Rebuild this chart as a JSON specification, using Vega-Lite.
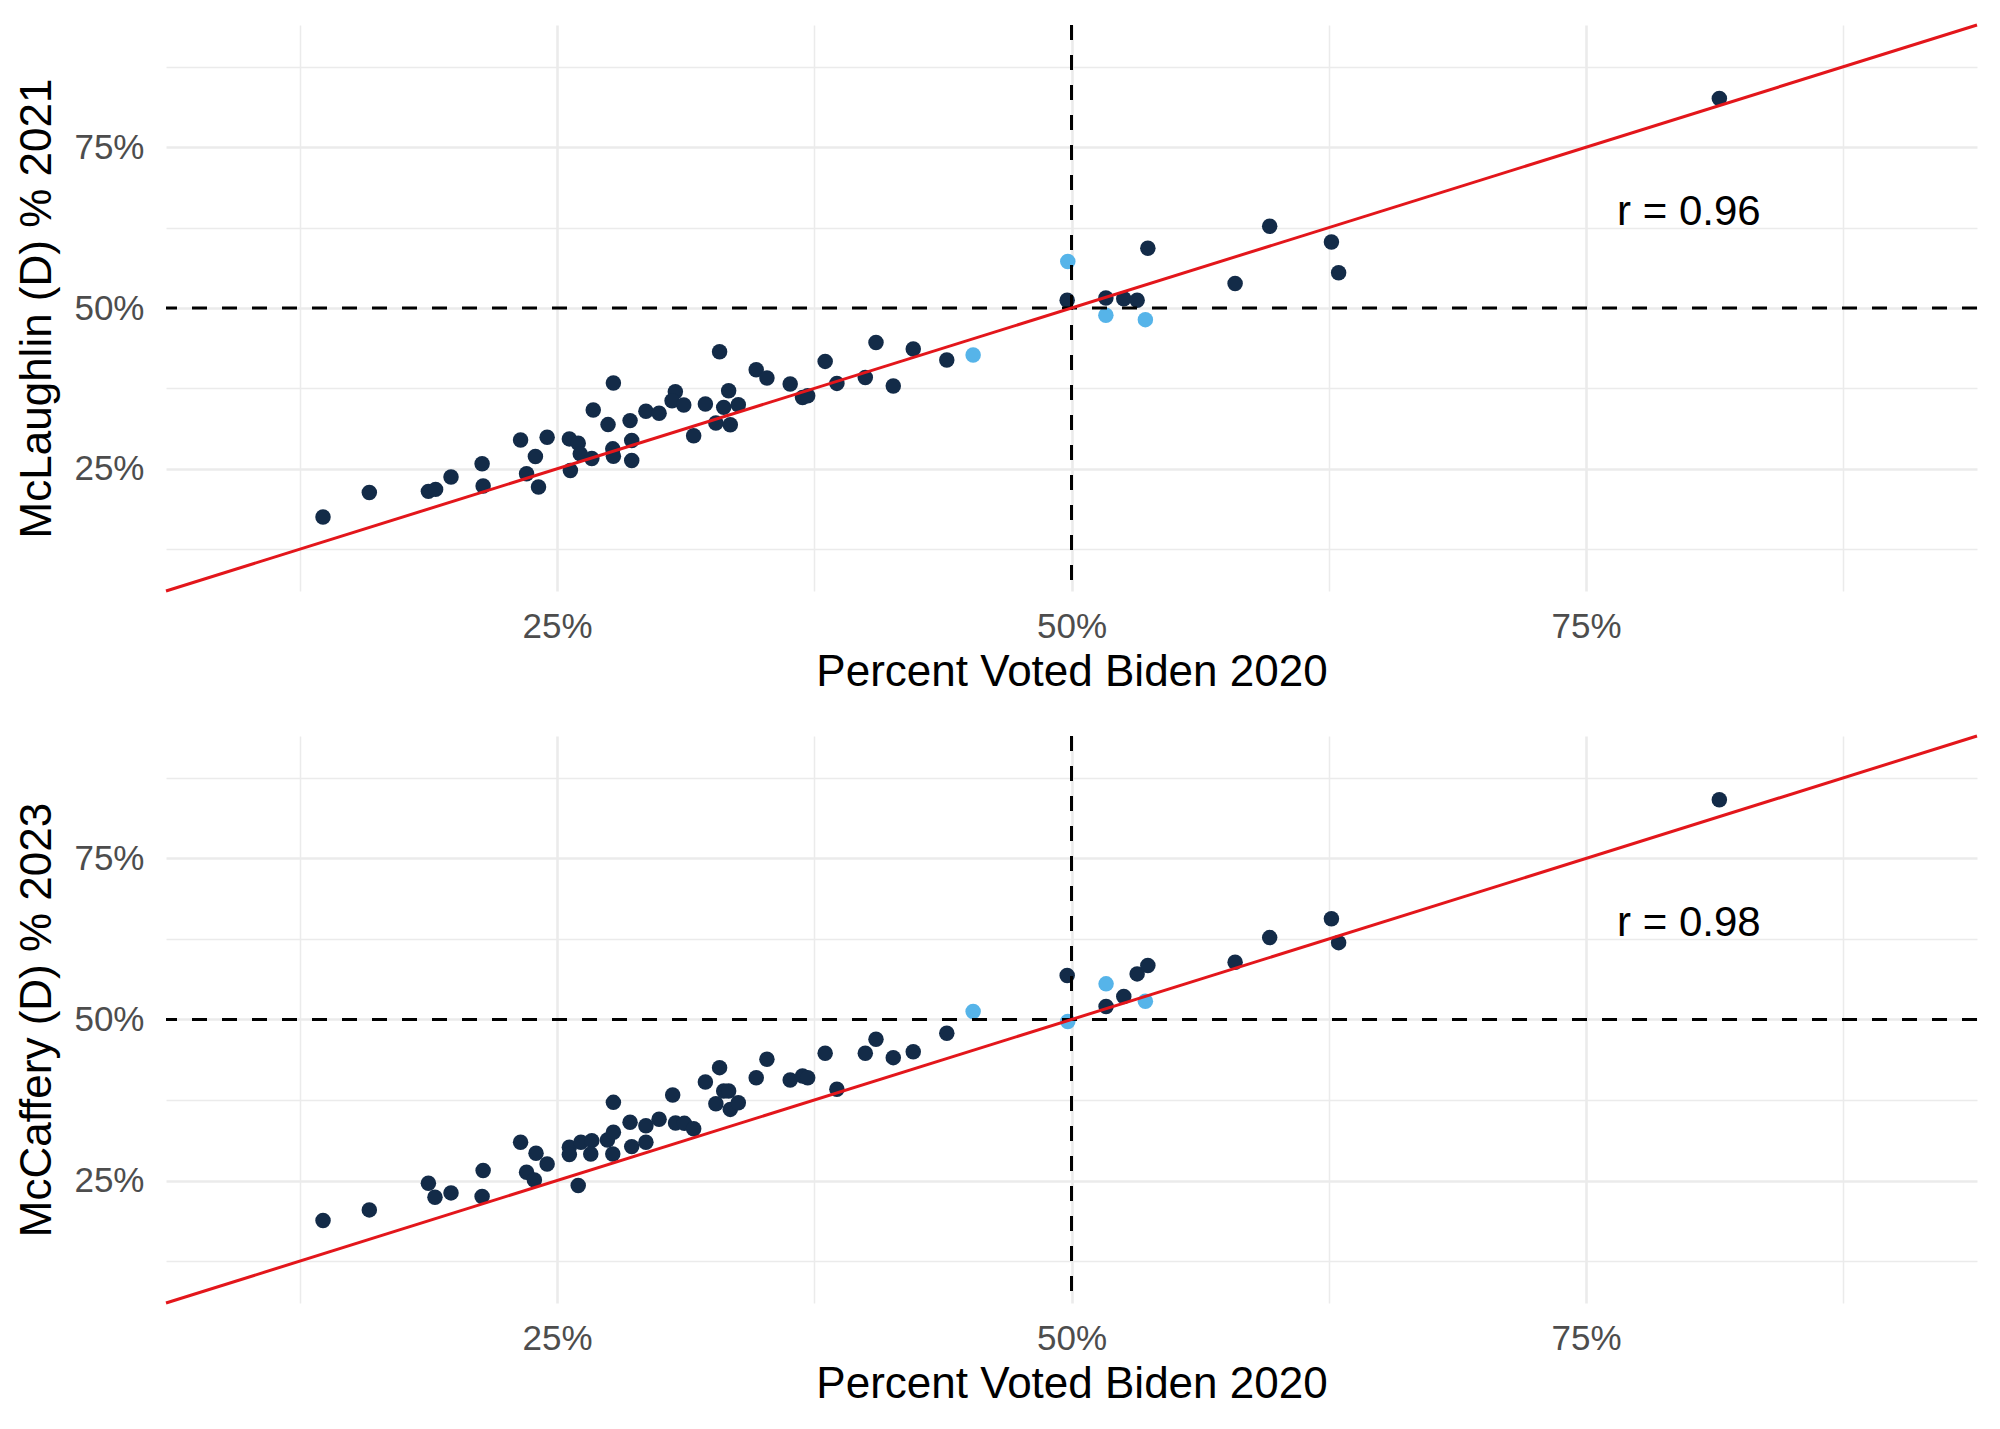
{
  "$schema": "https://vega.github.io/schema/vega-lite/v6.json",
  "background": "white",
  "padding": {"left": 15, "top": 23, "right": 23, "bottom": 10},
  "config": {
    "view": {"stroke": null},
    "font": "Liberation Sans",
    "axis": {
      "domain": false,
      "ticks": false,
      "labelFont": "Liberation Sans",
      "titleFont": "Liberation Sans",
      "labelFontSize": 35,
      "labelColor": "#4D4D4D",
      "titleFontSize": 44,
      "titleFontWeight": "normal",
      "titleColor": "black",
      "gridColor": "#EBEBEB",
      "labelOverlap": false,
      "labelFlush": false
    },
    "axisX": {"labelPadding": 18, "titlePadding": 6},
    "axisY": {"labelPadding": 22, "titlePadding": 14}
  },
  "datasets": {
    "p1": [
      {"biden": 0.1363, "dem": 0.1751, "hl": "no"},
      {"biden": 0.1588, "dem": 0.2133, "hl": "no"},
      {"biden": 0.1875, "dem": 0.2149, "hl": "no"},
      {"biden": 0.1910, "dem": 0.2180, "hl": "no"},
      {"biden": 0.1985, "dem": 0.2371, "hl": "no"},
      {"biden": 0.2136, "dem": 0.2577, "hl": "no"},
      {"biden": 0.2141, "dem": 0.2231, "hl": "no"},
      {"biden": 0.2323, "dem": 0.2949, "hl": "no"},
      {"biden": 0.2352, "dem": 0.2423, "hl": "no"},
      {"biden": 0.2395, "dem": 0.2691, "hl": "no"},
      {"biden": 0.2410, "dem": 0.2216, "hl": "no"},
      {"biden": 0.2452, "dem": 0.2991, "hl": "no"},
      {"biden": 0.2560, "dem": 0.2965, "hl": "no"},
      {"biden": 0.2603, "dem": 0.2898, "hl": "no"},
      {"biden": 0.2565, "dem": 0.2474, "hl": "no"},
      {"biden": 0.2613, "dem": 0.2732, "hl": "no"},
      {"biden": 0.2669, "dem": 0.2660, "hl": "no"},
      {"biden": 0.2676, "dem": 0.3414, "hl": "no"},
      {"biden": 0.2748, "dem": 0.3187, "hl": "no"},
      {"biden": 0.2774, "dem": 0.3833, "hl": "no"},
      {"biden": 0.2771, "dem": 0.2810, "hl": "no"},
      {"biden": 0.2774, "dem": 0.2696, "hl": "no"},
      {"biden": 0.2855, "dem": 0.3249, "hl": "no"},
      {"biden": 0.2863, "dem": 0.2939, "hl": "no"},
      {"biden": 0.2863, "dem": 0.2629, "hl": "no"},
      {"biden": 0.2932, "dem": 0.3394, "hl": "no"},
      {"biden": 0.2996, "dem": 0.3363, "hl": "no"},
      {"biden": 0.3075, "dem": 0.3698, "hl": "no"},
      {"biden": 0.3059, "dem": 0.3559, "hl": "no"},
      {"biden": 0.3116, "dem": 0.3492, "hl": "no"},
      {"biden": 0.3164, "dem": 0.3014, "hl": "no"},
      {"biden": 0.3221, "dem": 0.3506, "hl": "no"},
      {"biden": 0.3272, "dem": 0.3211, "hl": "no"},
      {"biden": 0.3290, "dem": 0.4320, "hl": "no"},
      {"biden": 0.3310, "dem": 0.3455, "hl": "no"},
      {"biden": 0.3334, "dem": 0.3714, "hl": "no"},
      {"biden": 0.3342, "dem": 0.3185, "hl": "no"},
      {"biden": 0.3381, "dem": 0.3496, "hl": "no"},
      {"biden": 0.3468, "dem": 0.4040, "hl": "no"},
      {"biden": 0.3520, "dem": 0.3911, "hl": "no"},
      {"biden": 0.3633, "dem": 0.3817, "hl": "no"},
      {"biden": 0.3693, "dem": 0.3610, "hl": "no"},
      {"biden": 0.3718, "dem": 0.3636, "hl": "no"},
      {"biden": 0.3803, "dem": 0.4170, "hl": "no"},
      {"biden": 0.3860, "dem": 0.3828, "hl": "no"},
      {"biden": 0.3998, "dem": 0.3921, "hl": "no"},
      {"biden": 0.4050, "dem": 0.4465, "hl": "no"},
      {"biden": 0.4134, "dem": 0.3786, "hl": "no"},
      {"biden": 0.4231, "dem": 0.4361, "hl": "no"},
      {"biden": 0.4394, "dem": 0.4190, "hl": "no"},
      {"biden": 0.4522, "dem": 0.4268, "hl": "yes"},
      {"biden": 0.4982, "dem": 0.5723, "hl": "yes"},
      {"biden": 0.4979, "dem": 0.5119, "hl": "no"},
      {"biden": 0.5167, "dem": 0.5155, "hl": "no"},
      {"biden": 0.5167, "dem": 0.4886, "hl": "yes"},
      {"biden": 0.5254, "dem": 0.5145, "hl": "no"},
      {"biden": 0.5319, "dem": 0.5119, "hl": "no"},
      {"biden": 0.5371, "dem": 0.5930, "hl": "no"},
      {"biden": 0.5359, "dem": 0.4819, "hl": "yes"},
      {"biden": 0.5795, "dem": 0.5382, "hl": "no"},
      {"biden": 0.5963, "dem": 0.6270, "hl": "no"},
      {"biden": 0.6263, "dem": 0.6027, "hl": "no"},
      {"biden": 0.6298, "dem": 0.5547, "hl": "no"},
      {"biden": 0.8148, "dem": 0.8258, "hl": "no"}
    ],
    "p2": [
      {"biden": 0.1363, "dem": 0.1880, "hl": "no"},
      {"biden": 0.1588, "dem": 0.2045, "hl": "no"},
      {"biden": 0.1875, "dem": 0.2459, "hl": "no"},
      {"biden": 0.1907, "dem": 0.2242, "hl": "no"},
      {"biden": 0.1985, "dem": 0.2309, "hl": "no"},
      {"biden": 0.2141, "dem": 0.2655, "hl": "no"},
      {"biden": 0.2136, "dem": 0.2252, "hl": "no"},
      {"biden": 0.2323, "dem": 0.3094, "hl": "no"},
      {"biden": 0.2352, "dem": 0.2629, "hl": "no"},
      {"biden": 0.2398, "dem": 0.2924, "hl": "no"},
      {"biden": 0.2390, "dem": 0.2510, "hl": "no"},
      {"biden": 0.2452, "dem": 0.2758, "hl": "no"},
      {"biden": 0.2560, "dem": 0.3017, "hl": "no"},
      {"biden": 0.2560, "dem": 0.2903, "hl": "no"},
      {"biden": 0.2616, "dem": 0.3094, "hl": "no"},
      {"biden": 0.2669, "dem": 0.3120, "hl": "no"},
      {"biden": 0.2664, "dem": 0.2913, "hl": "no"},
      {"biden": 0.2603, "dem": 0.2423, "hl": "no"},
      {"biden": 0.2745, "dem": 0.3130, "hl": "no"},
      {"biden": 0.2774, "dem": 0.3249, "hl": "no"},
      {"biden": 0.2771, "dem": 0.2913, "hl": "no"},
      {"biden": 0.2774, "dem": 0.3714, "hl": "no"},
      {"biden": 0.2855, "dem": 0.3404, "hl": "no"},
      {"biden": 0.2863, "dem": 0.3027, "hl": "no"},
      {"biden": 0.2932, "dem": 0.3352, "hl": "no"},
      {"biden": 0.2932, "dem": 0.3094, "hl": "no"},
      {"biden": 0.2996, "dem": 0.3452, "hl": "no"},
      {"biden": 0.3062, "dem": 0.3828, "hl": "no"},
      {"biden": 0.3076, "dem": 0.3393, "hl": "no"},
      {"biden": 0.3119, "dem": 0.3388, "hl": "no"},
      {"biden": 0.3164, "dem": 0.3305, "hl": "no"},
      {"biden": 0.3221, "dem": 0.4030, "hl": "no"},
      {"biden": 0.3272, "dem": 0.3693, "hl": "no"},
      {"biden": 0.3290, "dem": 0.4253, "hl": "no"},
      {"biden": 0.3310, "dem": 0.3890, "hl": "no"},
      {"biden": 0.3334, "dem": 0.3890, "hl": "no"},
      {"biden": 0.3342, "dem": 0.3605, "hl": "no"},
      {"biden": 0.3381, "dem": 0.3709, "hl": "no"},
      {"biden": 0.3468, "dem": 0.4097, "hl": "no"},
      {"biden": 0.3520, "dem": 0.4382, "hl": "no"},
      {"biden": 0.3633, "dem": 0.4061, "hl": "no"},
      {"biden": 0.3693, "dem": 0.4123, "hl": "no"},
      {"biden": 0.3718, "dem": 0.4097, "hl": "no"},
      {"biden": 0.3803, "dem": 0.4475, "hl": "no"},
      {"biden": 0.3860, "dem": 0.3916, "hl": "no"},
      {"biden": 0.3998, "dem": 0.4475, "hl": "no"},
      {"biden": 0.4050, "dem": 0.4693, "hl": "no"},
      {"biden": 0.4134, "dem": 0.4408, "hl": "no"},
      {"biden": 0.4231, "dem": 0.4501, "hl": "no"},
      {"biden": 0.4394, "dem": 0.4786, "hl": "no"},
      {"biden": 0.4522, "dem": 0.5123, "hl": "yes"},
      {"biden": 0.4979, "dem": 0.5682, "hl": "no"},
      {"biden": 0.4982, "dem": 0.4969, "hl": "yes"},
      {"biden": 0.5168, "dem": 0.5553, "hl": "yes"},
      {"biden": 0.5168, "dem": 0.5201, "hl": "no"},
      {"biden": 0.5254, "dem": 0.5356, "hl": "no"},
      {"biden": 0.5319, "dem": 0.5708, "hl": "no"},
      {"biden": 0.5371, "dem": 0.5837, "hl": "no"},
      {"biden": 0.5359, "dem": 0.5284, "hl": "yes"},
      {"biden": 0.5795, "dem": 0.5888, "hl": "no"},
      {"biden": 0.5963, "dem": 0.6271, "hl": "no"},
      {"biden": 0.6263, "dem": 0.6565, "hl": "no"},
      {"biden": 0.6298, "dem": 0.6193, "hl": "no"},
      {"biden": 0.8148, "dem": 0.8409, "hl": "no"}
    ]
  },
  "spacing": 40,
  "vconcat": [
    {
      "width": 1811,
      "height": 566,
      "layer": [
        {
          "data": {"name": "p1"},
          "mark": {"type": "circle", "size": 240, "opacity": 1},
          "encoding": {
            "x": {"field": "biden", "type": "quantitative", "scale": {"domain": [0.06, 0.94], "nice": false, "zero": false},
                  "axis": {"title": "Percent Voted Biden 2020", "values": [0.125, 0.25, 0.375, 0.5, 0.625, 0.75, 0.875], "format": ".0%",
                           "labelExpr": "(datum.value == 0.25 || datum.value == 0.5 || datum.value == 0.75) ? datum.label : ''",
                           "gridWidth": {"condition": {"test": "datum.value == 0.25 || datum.value == 0.5 || datum.value == 0.75", "value": 2.6}, "value": 1.5}}},
            "y": {"field": "dem", "type": "quantitative", "scale": {"domain": [0.06, 0.94], "nice": false, "zero": false},
                  "axis": {"title": "McLaughlin (D) % 2021", "values": [0.125, 0.25, 0.375, 0.5, 0.625, 0.75, 0.875], "format": ".0%",
                           "labelExpr": "(datum.value == 0.25 || datum.value == 0.5 || datum.value == 0.75) ? datum.label : ''",
                           "gridWidth": {"condition": {"test": "datum.value == 0.25 || datum.value == 0.5 || datum.value == 0.75", "value": 2.6}, "value": 1.5}}},
            "color": {"field": "hl", "type": "nominal", "scale": {"domain": ["no", "yes"], "range": ["#132B48", "#56B4E9"]}, "legend": null}
          }
        },
        {
          "data": {"values": [{}]},
          "mark": {"type": "rule", "strokeDash": [15, 15], "strokeWidth": 3, "color": "black"},
          "encoding": {"y": {"datum": 0.5, "type": "quantitative"}}
        },
        {
          "data": {"values": [{}]},
          "mark": {"type": "rule", "strokeDash": [15, 15], "strokeWidth": 3, "color": "black"},
          "encoding": {"x": {"datum": 0.5, "type": "quantitative"}}
        },
        {
          "data": {"values": [{}]},
          "mark": {"type": "rule", "strokeWidth": 3, "color": "#E3161B"},
          "encoding": {"x": {"datum": 0.06, "type": "quantitative"}, "y": {"datum": 0.06, "type": "quantitative"}, "x2": {"datum": 0.94}, "y2": {"datum": 0.94}}
        },
        {
          "data": {"values": [{}]},
          "mark": {"type": "text", "text": "r = 0.96", "fontSize": 42, "font": "Liberation Sans", "align": "center", "baseline": "middle", "color": "black"},
          "encoding": {"x": {"datum": 0.8, "type": "quantitative"}, "y": {"datum": 0.65, "type": "quantitative"}}
        }
      ]
    },
    {
      "width": 1811,
      "height": 567,
      "layer": [
        {
          "data": {"name": "p2"},
          "mark": {"type": "circle", "size": 240, "opacity": 1},
          "encoding": {
            "x": {"field": "biden", "type": "quantitative", "scale": {"domain": [0.06, 0.94], "nice": false, "zero": false},
                  "axis": {"title": "Percent Voted Biden 2020", "values": [0.125, 0.25, 0.375, 0.5, 0.625, 0.75, 0.875], "format": ".0%",
                           "labelExpr": "(datum.value == 0.25 || datum.value == 0.5 || datum.value == 0.75) ? datum.label : ''",
                           "gridWidth": {"condition": {"test": "datum.value == 0.25 || datum.value == 0.5 || datum.value == 0.75", "value": 2.6}, "value": 1.5}}},
            "y": {"field": "dem", "type": "quantitative", "scale": {"domain": [0.06, 0.94], "nice": false, "zero": false},
                  "axis": {"title": "McCaffery (D) % 2023", "values": [0.125, 0.25, 0.375, 0.5, 0.625, 0.75, 0.875], "format": ".0%",
                           "labelExpr": "(datum.value == 0.25 || datum.value == 0.5 || datum.value == 0.75) ? datum.label : ''",
                           "gridWidth": {"condition": {"test": "datum.value == 0.25 || datum.value == 0.5 || datum.value == 0.75", "value": 2.6}, "value": 1.5}}},
            "color": {"field": "hl", "type": "nominal", "scale": {"domain": ["no", "yes"], "range": ["#132B48", "#56B4E9"]}, "legend": null}
          }
        },
        {
          "data": {"values": [{}]},
          "mark": {"type": "rule", "strokeDash": [15, 15], "strokeWidth": 3, "color": "black"},
          "encoding": {"y": {"datum": 0.5, "type": "quantitative"}}
        },
        {
          "data": {"values": [{}]},
          "mark": {"type": "rule", "strokeDash": [15, 15], "strokeWidth": 3, "color": "black"},
          "encoding": {"x": {"datum": 0.5, "type": "quantitative"}}
        },
        {
          "data": {"values": [{}]},
          "mark": {"type": "rule", "strokeWidth": 3, "color": "#E3161B"},
          "encoding": {"x": {"datum": 0.06, "type": "quantitative"}, "y": {"datum": 0.06, "type": "quantitative"}, "x2": {"datum": 0.94}, "y2": {"datum": 0.94}}
        },
        {
          "data": {"values": [{}]},
          "mark": {"type": "text", "text": "r = 0.98", "fontSize": 42, "font": "Liberation Sans", "align": "center", "baseline": "middle", "color": "black"},
          "encoding": {"x": {"datum": 0.8, "type": "quantitative"}, "y": {"datum": 0.65, "type": "quantitative"}}
        }
      ]
    }
  ]
}
